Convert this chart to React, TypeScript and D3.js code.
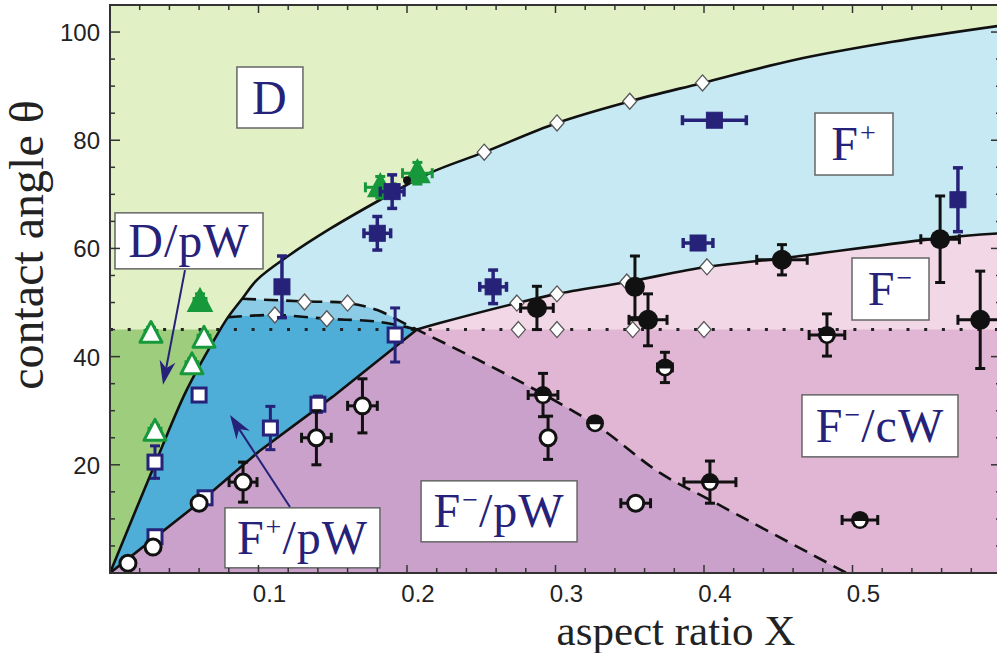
import React from 'react';
import * as d3 from 'd3';

type Pt = [number, number];
type Obs = { x: number; y: number; ex: number; ey: number };

// phase boundaries: [aspect ratio X, contact angle θ]
const wettingAngle = 45;
const triplePoint: Pt = [0.2067, 45];
const leftBoundary: Pt[] = [[0, 0], [0.0314, 20.9], [0.0516, 33.8], [0.074, 44.9], [0.0795, 47.3], [0.089, 50.7]];
const dBoundary: Pt[] = [[0.089, 50.7], [0.099, 54.2], [0.12, 58.6], [0.148, 63.6], [0.182, 69], [0.215, 73.9], [0.252, 77.8], [0.301, 83.2], [0.35, 87.2], [0.399, 90.6], [0.46, 94.8], [0.527, 98.2], [0.6, 101.2]];
const lowerLine: Pt[] = [[0, 0], [0.06, 13], [0.1, 22.4], [0.15, 32.6], triplePoint];
const fBoundary: Pt[] = [triplePoint, [0.222, 46.2], [0.274, 49.9], [0.301, 51.6], [0.348, 53.8], [0.402, 56.6], [0.453, 58.2], [0.559, 61.9], [0.6, 62.8]];
const dashedUpper: Pt[] = [[0.089, 50.7], [0.131, 50.2], [0.16, 49.9], [0.18, 48.6], [0.2, 45.9], triplePoint];
const dashedFall: Pt[] = [triplePoint, [0.274, 35.7], [0.328, 27.2], [0.3704, 18.5], [0.404, 13.5], [0.496, 0]];
const dashedLower: Pt[] = [[0.0795, 47.3], [0.111, 47.7], [0.146, 47.0], [0.182, 46.4], triplePoint];

// simulation points (open diamonds)
const diamonds: Pt[] = [
  [0.252, 77.8], [0.301, 83.2], [0.35, 87.2], [0.399, 90.6],
  [0.274, 49.9], [0.301, 51.6], [0.348, 53.8], [0.402, 56.6],
  [0.275, 45], [0.301, 45], [0.352, 45], [0.4, 45],
  [0.111, 47.7], [0.131, 50.1], [0.146, 47.0], [0.16, 49.9],
];

// experiments
const navyFilled: Obs[] = [
  { x: 0.1158, y: 52.9, ex: 0, ey: 5.7 },
  { x: 0.18, y: 62.8, ex: 0.009, ey: 3.1 },
  { x: 0.19, y: 70.5, ex: 0.008, ey: 3.1 },
  { x: 0.258, y: 52.9, ex: 0.009, ey: 3.1 },
  { x: 0.407, y: 83.7, ex: 0.0215, ey: 0 },
  { x: 0.396, y: 61, ex: 0.01, ey: 0 },
  { x: 0.571, y: 69, ex: 0, ey: 5.9 },
];
const navyOpen: Obs[] = [
  { x: 0.0303, y: 20.5, ex: 0, ey: 3 },
  { x: 0.06, y: 32.9, ex: 0, ey: 0 },
  { x: 0.0303, y: 6.7, ex: 0, ey: 1 },
  { x: 0.064, y: 13.9, ex: 0, ey: 1 },
  { x: 0.108, y: 26.8, ex: 0, ey: 4 },
  { x: 0.14, y: 31.2, ex: 0.004, ey: 1.5 },
  { x: 0.192, y: 44, ex: 0, ey: 5 },
];
const openCircles: Obs[] = [
  { x: 0.0121, y: 1.8, ex: 0, ey: 0 },
  { x: 0.029, y: 4.8, ex: 0, ey: 0 },
  { x: 0.06, y: 12.9, ex: 0, ey: 0 },
  { x: 0.0896, y: 16.8, ex: 0.0094, ey: 3.7 },
  { x: 0.139, y: 25, ex: 0.01, ey: 5 },
  { x: 0.17, y: 30.9, ex: 0.01, ey: 5 },
  { x: 0.295, y: 25, ex: 0, ey: 4 },
  { x: 0.354, y: 12.9, ex: 0.01, ey: 1 },
];
const halfCircles: Obs[] = [
  { x: 0.2916, y: 32.9, ex: 0.01, ey: 4 },
  { x: 0.3266, y: 27.7, ex: 0, ey: 0.8 },
  { x: 0.3737, y: 38, ex: 0.005, ey: 2.8 },
  { x: 0.4828, y: 44, ex: 0.012, ey: 3.9 },
  { x: 0.404, y: 16.8, ex: 0.0175, ey: 3.9 },
  { x: 0.505, y: 9.8, ex: 0.012, ey: 0.8 },
];
const filledCircles: Obs[] = [
  { x: 0.2875, y: 49, ex: 0.011, ey: 4 },
  { x: 0.3535, y: 52.9, ex: 0, ey: 5.7 },
  { x: 0.3623, y: 46.8, ex: 0.0128, ey: 4.8 },
  { x: 0.4525, y: 57.9, ex: 0.017, ey: 2.8 },
  { x: 0.559, y: 61.7, ex: 0.013, ey: 8 },
  { x: 0.586, y: 46.8, ex: 0.015, ey: 9 },
];
const greenOpen: Obs[] = [
  { x: 0.0276, y: 44.2, ex: 0.004, ey: 1.2 },
  { x: 0.0633, y: 43.3, ex: 0.004, ey: 1.2 },
  { x: 0.0552, y: 38.4, ex: 0.004, ey: 1.2 },
  { x: 0.0303, y: 26.1, ex: 0.004, ey: 1.2 },
];
const greenFilled: Obs[] = [
  { x: 0.0606, y: 50.1, ex: 0.004, ey: 1.5 },
  { x: 0.182, y: 71.3, ex: 0.01, ey: 2 },
  { x: 0.207, y: 73.9, ex: 0.01, ey: 2 },
];
const blackDot: Pt[] = [[0.2, 72.6]];

type Part = { t: string; sup?: boolean };
const phaseLabels: { parts: Part[]; x: number; y: number; w: number; h: number }[] = [
  { parts: [{ t: 'D' }], x: 0.1077, y: 87.9, w: 66, h: 61 },
  { parts: [{ t: 'D/pW' }], x: 0.0532, y: 61.4, w: 148, h: 56 },
  { parts: [{ t: 'F' }, { t: '+', sup: true }], x: 0.501, y: 79.3, w: 78, h: 62 },
  { parts: [{ t: 'F' }, { t: '\u2212', sup: true }], x: 0.5256, y: 52.5, w: 77, h: 62 },
  { parts: [{ t: 'F' }, { t: '\u2212', sup: true }, { t: '/cW' }], x: 0.5185, y: 27.2, w: 156, h: 62 },
  { parts: [{ t: 'F' }, { t: '\u2212', sup: true }, { t: '/pW' }], x: 0.262, y: 11.4, w: 156, h: 61 },
  { parts: [{ t: 'F' }, { t: '+', sup: true }, { t: '/pW' }], x: 0.1296, y: 6.5, w: 155, h: 60 },
];
const arrows: { from: Pt; to: Pt }[] = [
  { from: [0.0505, 56], to: [0.0357, 34.8] },
  { from: [0.1212, 12.2], to: [0.0808, 29.2] },
];

const xTicks = d3.range(0, 31).map(i => +(i * 0.02).toFixed(2));
const yTicks = d3.range(0, 22).map(i => i * 5);
const xLabels = [0.1, 0.2, 0.3, 0.4, 0.5];
const yLabels = [20, 40, 60, 80, 100];

const NAVY = '#272279';
const GREEN = '#17993b';
const SERIF = '"Liberation Serif", "Times New Roman", serif';
const SANS = '"Liberation Sans", Arial, sans-serif';

export default function App() {
  const x = d3.scaleLinear().domain([0, 0.6]).range([110, 1001]);
  const y = d3.scaleLinear().domain([0, 105]).range([573, 5]);
  const smooth = d3.line<Pt>().x(d => x(d[0])).y(d => y(d[1])).curve(d3.curveCatmullRom.alpha(0.5));
  const straight = d3.line<Pt>().x(d => x(d[0])).y(d => y(d[1]));
  const S = (p: Pt[]) => smooth(p) as string;
  const L = (p: Pt[]) => straight(p) as string;
  const rev = (p: Pt[]) => [...p].reverse();
  const region = (...parts: string[]) => parts.map((s, i) => (i ? s.replace(/^M/, 'L') : s)).join('') + 'Z';
  const [xMin, xMax] = x.domain();
  const [yMin, yMax] = y.domain();

  const fills = [
    { d: L([[xMin, yMin], [xMin, yMax], [xMax, yMax], [xMax, yMin]]) + 'Z', fill: '#e2f1c5' },
    { d: L([[xMin, yMin], [xMin, wettingAngle], [xMax, wettingAngle], [xMax, yMin]]) + 'Z', fill: '#9ecd7d' },
    { d: region(S(leftBoundary), S(dBoundary), L([[xMax, yMin], [xMin, yMin]])), fill: '#c7e9f3' },
    { d: region(S(leftBoundary), S(dashedUpper), L(rev(lowerLine))), fill: '#8ccbe5' },
    { d: region(S(leftBoundary.slice(0, 5)), S(dashedLower), L(rev(lowerLine))), fill: '#4eaed8' },
    { d: region(L(lowerLine), S(fBoundary), L([[xMax, yMin]])), fill: '#f2d8e7' },
    { d: region(L([triplePoint, [xMax, wettingAngle], [xMax, yMin]]), S(rev(dashedFall))), fill: '#e1b5d4' },
    { d: region(L(lowerLine), S(dashedFall)), fill: '#c9a1ca' },
  ];

  const errBars = (d: Obs, color: string, w = 3) => {
    const cx = x(d.x), cy = y(d.y);
    const dx = x(d.x + d.ex) - cx, dy = cy - y(d.y + d.ey);
    const c = 5;
    return (
      <g stroke={color} strokeWidth={w} fill="none">
        {d.ey > 0 && <>
          <line x1={cx} x2={cx} y1={cy - dy} y2={cy + dy} />
          <line x1={cx - c} x2={cx + c} y1={cy - dy} y2={cy - dy} />
          <line x1={cx - c} x2={cx + c} y1={cy + dy} y2={cy + dy} />
        </>}
        {d.ex > 0 && <>
          <line x1={cx - dx} x2={cx + dx} y1={cy} y2={cy} />
          <line x1={cx - dx} x2={cx - dx} y1={cy - c} y2={cy + c} />
          <line x1={cx + dx} x2={cx + dx} y1={cy - c} y2={cy + c} />
        </>}
      </g>
    );
  };
  const tri = (s: number) => `M0,${-s * 0.62}L${s * 0.55},${s * 0.42}L${-s * 0.55},${s * 0.42}Z`;

  return (
    <svg width={997} height={653} style={{ position: 'absolute', left: 0, top: 0, background: '#fff' }}>
      <defs>
        <clipPath id="plot"><rect x={x(xMin)} y={y(yMax)} width={x(xMax) - x(xMin)} height={y(yMin) - y(yMax)} /></clipPath>
      </defs>
      <g clipPath="url(#plot)">
        {fills.map((f, i) => <path key={i} d={f.d} fill={f.fill} />)}
        <line x1={x(xMin)} x2={x(xMax)} y1={y(wettingAngle)} y2={y(wettingAngle)} stroke="#222" strokeWidth={3} strokeDasharray="3 14.7" />
        <g fill="none" stroke="#111" strokeWidth={2.6}>
          <path d={S([...leftBoundary, ...dBoundary.slice(1)])} />
          <path d={L(lowerLine)} />
          <path d={S(fBoundary)} />
          <path d={S([...dashedUpper, ...dashedFall.slice(1)])} strokeDasharray="14 8" />
          <path d={S(dashedLower)} strokeDasharray="14 8" />
        </g>
        {diamonds.map((d, i) => (
          <path key={i} transform={`translate(${x(d[0])},${y(d[1])})`} d="M0,-8L7,0L0,8L-7,0Z" fill="#fff" stroke="#555" strokeWidth={1.3} />
        ))}
        {greenOpen.map((d, i) => (
          <g key={i}>{errBars(d, GREEN)}<path transform={`translate(${x(d.x)},${y(d.y)})`} d={tri(20)} fill="#fff" stroke={GREEN} strokeWidth={3} strokeLinejoin="round" /></g>
        ))}
        {greenFilled.map((d, i) => (
          <g key={i}>{errBars(d, GREEN)}<path transform={`translate(${x(d.x)},${y(d.y)})`} d={tri(22)} fill={GREEN} stroke={GREEN} strokeWidth={1.5} /></g>
        ))}
        {blackDot.map((d, i) => <circle key={i} cx={x(d[0])} cy={y(d[1])} r={4} fill="#111" />)}
        {navyOpen.map((d, i) => (
          <g key={i}>{errBars(d, NAVY)}<rect x={x(d.x) - 7} y={y(d.y) - 7} width={14} height={14} fill="#fff" stroke={NAVY} strokeWidth={3} /></g>
        ))}
        {navyFilled.map((d, i) => (
          <g key={i}>{errBars(d, NAVY, 3.5)}<rect x={x(d.x) - 8} y={y(d.y) - 8} width={16} height={16} fill={NAVY} stroke={NAVY} strokeWidth={1} /></g>
        ))}
        {openCircles.map((d, i) => (
          <g key={i}>{errBars(d, '#111')}<circle cx={x(d.x)} cy={y(d.y)} r={8} fill="#fff" stroke="#111" strokeWidth={3} /></g>
        ))}
        {halfCircles.map((d, i) => (
          <g key={i}>{errBars(d, '#111')}
            <g transform={`translate(${x(d.x)},${y(d.y)})`}>
              <circle r={9} fill="#111" />
              <path d="M-5.5,1A5.5,5.5 0 0 0 5.5,1Z" fill="#fff" />
            </g>
          </g>
        ))}
        {filledCircles.map((d, i) => (
          <g key={i}>{errBars(d, '#111')}<circle cx={x(d.x)} cy={y(d.y)} r={10} fill="#111" /></g>
        ))}
        {phaseLabels.map((p, i) => {
          const cx = x(p.x), cy = y(p.y);
          return (
            <g key={i}>
              <rect x={cx - p.w / 2} y={cy - p.h / 2} width={p.w} height={p.h} fill="#fff" stroke="#666" strokeWidth={1.5} />
              <text x={cx} y={cy + 16} textAnchor="middle" fontFamily={SERIF} fontSize={48} fill={NAVY} letterSpacing={1}>
                {p.parts.map((q, j) => {
                  const prevSup = j > 0 && p.parts[j - 1].sup;
                  if (q.sup) return <tspan key={j} fontSize={28} dy={-18} dx={1}>{q.t}</tspan>;
                  return <tspan key={j} dy={prevSup ? 18 : 0}>{q.t}</tspan>;
                })}
              </text>
            </g>
          );
        })}
        {arrows.map((a, i) => {
          const x1 = x(a.from[0]), y1 = y(a.from[1]), x2 = x(a.to[0]), y2 = y(a.to[1]);
          const ang = Math.atan2(y2 - y1, x2 - x1);
          const len = 24, hw = 8;
          const bx = x2 - len * Math.cos(ang), by = y2 - len * Math.sin(ang);
          const nx = -Math.sin(ang), ny = Math.cos(ang);
          const mx = x2 - len * 0.7 * Math.cos(ang), my = y2 - len * 0.7 * Math.sin(ang);
          return (
            <g key={i}>
              <line x1={x1} y1={y1} x2={mx} y2={my} stroke={NAVY} strokeWidth={2} />
              <path d={`M${x2},${y2}L${bx + nx * hw},${by + ny * hw}L${mx},${my}L${bx - nx * hw},${by - ny * hw}Z`} fill={NAVY} />
            </g>
          );
        })}
      </g>
      {/* frame and ticks */}
      <rect x={x(xMin)} y={y(yMax)} width={x(xMax) - x(xMin)} height={y(yMin) - y(yMax)} fill="none" stroke="#333" strokeWidth={2} />
      <g stroke="#333" strokeWidth={1.5}>
        {xTicks.map((t, i) => {
          const len = i % 5 === 0 ? 8 : 5;
          return (
            <g key={i}>
              <line x1={x(t)} x2={x(t)} y1={y(yMin)} y2={y(yMin) - len} />
              <line x1={x(t)} x2={x(t)} y1={y(yMax)} y2={y(yMax) + len} />
            </g>
          );
        })}
        {yTicks.map((t, i) => {
          const len = t % 20 === 0 ? 10 : 5;
          return (
            <g key={i}>
              <line x1={x(xMin)} x2={x(xMin) + len} y1={y(t)} y2={y(t)} />
              <line x1={x(xMax)} x2={x(xMax) - len} y1={y(t)} y2={y(t)} />
            </g>
          );
        })}
      </g>
      <g fontFamily={SANS} fontSize={24} fill="#222">
        {xLabels.map(t => <text key={t} x={x(t) + 11} y={602} textAnchor="middle">{t}</text>)}
        {yLabels.map(t => <text key={t} x={100} y={y(t) + 9} textAnchor="end">{t}</text>)}
      </g>
      <text x={676} y={645} textAnchor="middle" fontFamily={SERIF} fontSize={43} fill="#222">aspect ratio X</text>
      <text transform="translate(43,245) rotate(-90)" textAnchor="middle" fontFamily={SERIF} fontSize={48} fill="#222">contact angle θ</text>
    </svg>
  );
}
